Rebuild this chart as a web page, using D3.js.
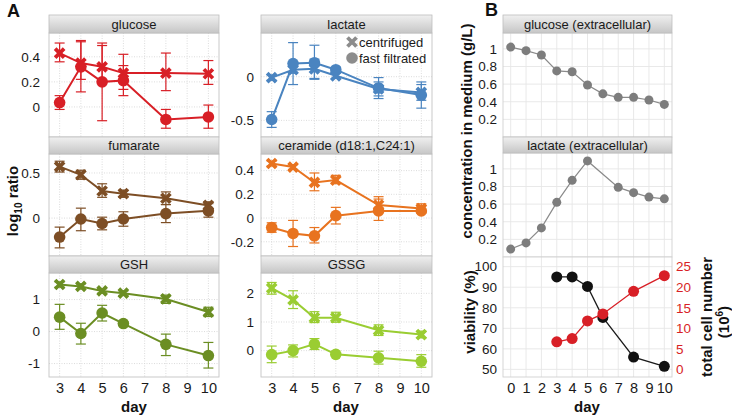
<!DOCTYPE html>
<html><head><meta charset="utf-8">
<script src="https://cdn.jsdelivr.net/npm/d3@7"></script>
<style>body{margin:0;background:#fff} svg{display:block;font-family:"Liberation Sans",Arial,sans-serif}</style>
</head><body><svg id="c" width="732" height="415"></svg>
<script>
// ---------- DATA ----------
const daysA = [3, 4, 5, 6, 8, 10];
const dayTicksA = [3, 4, 5, 6, 7, 8, 9, 10];
const metabolites = ["glucose", "lactate", "fumarate", "ceramide  (d18:1,C24:1)", "GSH", "GSSG"];
const metaboliteColors = ["#d81f26", "#4a84c0", "#7d4e25", "#e8731f", "#6b8e23", "#9acd32"];
const yDomainsA = [[-0.24, 0.59], [-0.69, 0.50], [-0.42, 0.71], [-0.32, 0.54], [-1.42, 1.83], [-0.92, 2.71]];
const yTicksA = [[0, 0.2, 0.4], [-0.5, 0], [0, 0.5], [-0.2, 0, 0.2, 0.4], [-1, 0, 1], [0, 1, 2]];

const centMean = [
  [0.43, 0.35, 0.32, 0.27, 0.27, 0.265],
  [-0.01, 0.08, 0.09, 0.01, -0.14, -0.18],
  [0.57, 0.48, 0.30, 0.27, 0.22, 0.14],
  [0.46, 0.43, 0.30, 0.32, 0.11, 0.08],
  [1.47, 1.41, 1.27, 1.20, 1.02, 0.61],
  [2.18, 1.77, 1.15, 1.15, 0.71, 0.56]
];
const centLo = [
  [0.36, 0.22, 0.22, 0.14, 0.13, 0.18],
  [-0.04, 0.04, -0.02, -0.02, -0.22, -0.27],
  [0.51, 0.43, 0.23, 0.23, 0.15, 0.09],
  [0.44, 0.41, 0.23, 0.29, 0.06, 0.05],
  [1.39, 1.33, 1.20, 1.13, 0.88, 0.47],
  [1.97, 1.47, 0.98, 0.99, 0.53, 0.45]
];
const centHi = [
  [0.51, 0.53, 0.51, 0.42, 0.43, 0.37],
  [0.02, 0.12, 0.20, 0.04, -0.06, -0.09],
  [0.63, 0.53, 0.38, 0.31, 0.29, 0.18],
  [0.48, 0.45, 0.38, 0.36, 0.18, 0.12],
  [1.55, 1.49, 1.34, 1.27, 1.14, 0.76],
  [2.38, 2.09, 1.36, 1.34, 0.90, 0.68]
];
const filtMean = [
  [0.035, 0.32, 0.20, 0.21, -0.10, -0.08],
  [-0.49, 0.15, 0.16, 0.08, -0.13, -0.21],
  [-0.21, -0.01, -0.06, -0.01, 0.05, 0.08],
  [-0.08, -0.13, -0.15, 0.02, 0.06, 0.06],
  [0.45, -0.06, 0.58, 0.25, -0.40, -0.75],
  [-0.14, 0.0, 0.23, -0.13, -0.25, -0.37]
];
const filtLo = [
  [-0.02, 0.12, -0.11, 0.09, -0.17, -0.17],
  [-0.58, -0.09, -0.03, 0.05, -0.25, -0.36],
  [-0.33, -0.14, -0.13, -0.09, -0.05, 0.01],
  [-0.12, -0.24, -0.21, -0.05, -0.02, 0.04],
  [0.07, -0.39, 0.33, 0.19, -0.75, -1.14],
  [-0.42, -0.22, 0.04, -0.18, -0.47, -0.58]
];
const filtHi = [
  [0.09, 0.52, 0.49, 0.33, -0.02, 0.015],
  [-0.40, 0.39, 0.36, 0.11, -0.01, -0.06],
  [-0.10, 0.11, 0.01, 0.07, 0.15, 0.16],
  [-0.04, -0.02, -0.08, 0.09, 0.16, 0.10],
  [0.85, 0.26, 0.82, 0.31, -0.08, -0.34],
  [0.16, 0.20, 0.42, -0.08, -0.02, -0.14]
];
const legendLabels = ["centrifuged", "fast filtrated"];

const daysB = [0, 1, 2, 3, 4, 5, 6, 7, 8, 9, 10];
const glucoseMedium = [1.02, 0.98, 0.93, 0.75, 0.74, 0.59, 0.49, 0.45, 0.45, 0.42, 0.37];
const lactateDays = [0, 1, 2, 3, 4, 5, 7, 8, 9, 10];
const lactateMedium = [0.09, 0.16, 0.33, 0.62, 0.87, 1.09, 0.79, 0.73, 0.68, 0.66];
const mediumTitles = ["glucose  (extracellular)", "lactate  (extracellular)"];
const mediumTicks = [0.2, 0.4, 0.6, 0.8, 1];
const viabDays = [3, 4, 5, 6, 8, 10];
const viability = [95, 95, 90.4, 75.3, 56, 51.5];
const cellNumber = [6.7, 7.5, 11.8, 13.5, 19, 22.8];
const viabTicks = [50, 60, 70, 80, 90, 100];
const cellTicks = [0, 5, 10, 15, 20, 25];

// ---------- DRAW ----------
const svg = d3.select("#c");
const defs = svg.append("defs");
const grad = defs.append("linearGradient").attr("id", "sg").attr("x1", 0).attr("x2", 0).attr("y1", 0).attr("y2", 1);
grad.append("stop").attr("offset", "0%").attr("stop-color", "#f0f0f0");
grad.append("stop").attr("offset", "100%").attr("stop-color", "#c6c6c6");

const fmt = d => String(d);
const colsA = [[49, 219], [261, 432]];
const rowsA = [[15, 33, 137], [137, 154, 256], [256, 273, 377]];

function strip(x0, x1, s, p0, label) {
  svg.append("rect").attr("x", x0).attr("y", s).attr("width", x1 - x0).attr("height", p0 - s)
    .attr("fill", "url(#sg)").attr("stroke", "#bdbdbd").attr("stroke-width", 0.8);
  svg.append("text").attr("x", (x0 + x1) / 2).attr("y", (s + p0) / 2 + 4.5).attr("text-anchor", "middle")
    .attr("font-size", 13).attr("fill", "#1a1a1a").text(label);
}

function crossPath(r) { return `M${-r},${-r}L${r},${r}M${-r},${r}L${r},${-r}`; }

metabolites.forEach((name, i) => {
  const [x0, x1] = colsA[i % 2];
  const [s, p0, p1] = rowsA[Math.floor(i / 2)];
  const x = d3.scaleLinear().domain([2.5, 10.5]).range([x0, x1]);
  const y = d3.scaleLinear().domain(yDomainsA[i]).range([p1, p0]);
  const col = metaboliteColors[i];
  const g = svg.append("g");
  g.append("rect").attr("x", x0).attr("y", p0).attr("width", x1 - x0).attr("height", p1 - p0).attr("fill", "#fff");
  g.selectAll(".vg").data(dayTicksA).join("line").attr("x1", d => x(d)).attr("x2", d => x(d)).attr("y1", p0).attr("y2", p1)
    .attr("stroke", "#d8d8d8").attr("stroke-dasharray", "1,1.5").attr("stroke-width", 0.9);
  g.selectAll(".hg").data(yTicksA[i]).join("line").attr("x1", x0).attr("x2", x1).attr("y1", d => y(d)).attr("y2", d => y(d))
    .attr("stroke", "#d8d8d8").attr("stroke-dasharray", "1,1.5").attr("stroke-width", 0.9);
  g.append("rect").attr("x", x0).attr("y", p0).attr("width", x1 - x0).attr("height", p1 - p0)
    .attr("fill", "none").attr("stroke", "#c4c4c4").attr("stroke-width", 0.9);
  strip(x0, x1, s, p0, name);
  const ya = g.append("g").attr("transform", `translate(${x0},0)`)
    .call(d3.axisLeft(y).tickValues(yTicksA[i]).tickFormat(fmt).tickSize(0).tickPadding(i % 2 ? 7 : 9));
  ya.select(".domain").remove();
  ya.selectAll("text").attr("font-size", 13.5).attr("fill", "#1a1a1a").attr("font-family", "Liberation Sans, Arial, sans-serif");
  if (i >= 4) {
    const xa = g.append("g").attr("transform", `translate(0,${p1})`)
      .call(d3.axisBottom(x).tickValues(dayTicksA).tickFormat(fmt).tickSize(0).tickPadding(6));
    xa.select(".domain").remove();
    xa.selectAll("text").attr("font-size", 14.5).attr("fill", "#1a1a1a").attr("font-family", "Liberation Sans, Arial, sans-serif");
  }
  const series = [
    { m: centMean[i], lo: centLo[i], hi: centHi[i], shape: "x" },
    { m: filtMean[i], lo: filtLo[i], hi: filtHi[i], shape: "o" }
  ];
  series.forEach(se => {
    const pts = daysA.map((d, k) => ({ d, v: se.m[k], lo: se.lo[k], hi: se.hi[k] }));
    const eb = g.append("g").attr("stroke", col).attr("stroke-width", 1.2).attr("fill", "none");
    pts.forEach(p => {
      eb.append("line").attr("x1", x(p.d)).attr("x2", x(p.d)).attr("y1", y(p.lo)).attr("y2", y(p.hi));
      eb.append("line").attr("x1", x(p.d) - 5).attr("x2", x(p.d) + 5).attr("y1", y(p.lo)).attr("y2", y(p.lo));
      eb.append("line").attr("x1", x(p.d) - 5).attr("x2", x(p.d) + 5).attr("y1", y(p.hi)).attr("y2", y(p.hi));
    });
    g.append("path").datum(pts).attr("fill", "none").attr("stroke", col).attr("stroke-width", 2)
      .attr("d", d3.line().x(p => x(p.d)).y(p => y(p.v)));
    if (se.shape === "x") {
      g.selectAll(null).data(pts).join("path").attr("transform", p => `translate(${x(p.d)},${y(p.v)})`)
        .attr("d", crossPath(4.5)).attr("stroke", col).attr("stroke-width", 3.8).attr("fill", "none");
    } else {
      g.selectAll(null).data(pts).join("circle").attr("cx", p => x(p.d)).attr("cy", p => y(p.v)).attr("r", 5.8).attr("fill", col);
    }
  });
  if (i === 1) {
    const lx = 352, ly = [42, 58];
    g.append("path").attr("transform", `translate(${lx},${ly[0]})`).attr("d", crossPath(4.5))
      .attr("stroke", "#8c8c8c").attr("stroke-width", 3.8);
    g.append("circle").attr("cx", lx).attr("cy", ly[1]).attr("r", 5.8).attr("fill", "#8c8c8c");
    legendLabels.forEach((t, k) => g.append("text").attr("x", lx + 7).attr("y", ly[k] + 4.5).attr("font-size", 13)
      .attr("fill", "#1a1a1a").text(t));
  }
});

// ---------- PANEL B ----------
const bx0 = 503, bx1 = 672;
const xB = d3.scaleLinear().domain([-0.5, 10.5]).range([bx0, bx1]);
const rowsB = [[15, 33, 137], [137, 153, 257]];
const mediumSeries = [
  daysB.map((d, k) => ({ d, v: glucoseMedium[k] })),
  lactateDays.map((d, k) => ({ d, v: lactateMedium[k] }))
];
function gridB(g, y, p0, p1, ticks) {
  g.append("rect").attr("x", bx0).attr("y", p0).attr("width", bx1 - bx0).attr("height", p1 - p0).attr("fill", "#fff");
  g.selectAll(null).data(daysB).join("line").attr("x1", d => xB(d)).attr("x2", d => xB(d)).attr("y1", p0).attr("y2", p1)
    .attr("stroke", "#e6e6e6").attr("stroke-width", 0.9);
  g.selectAll(null).data(ticks).join("line").attr("x1", bx0).attr("x2", bx1).attr("y1", d => y(d)).attr("y2", d => y(d))
    .attr("stroke", "#e6e6e6").attr("stroke-width", 0.9);
  g.append("rect").attr("x", bx0).attr("y", p0).attr("width", bx1 - bx0).attr("height", p1 - p0)
    .attr("fill", "none").attr("stroke", "#d0d0d0").attr("stroke-width", 0.9);
}
mediumSeries.forEach((pts, i) => {
  const [s, p0, p1] = rowsB[i];
  const y = d3.scaleLinear().domain([0, 1.18]).range([p1, p0]);
  const g = svg.append("g");
  gridB(g, y, p0, p1, mediumTicks);
  strip(bx0, bx1, s, p0, mediumTitles[i]);
  const ya = g.append("g").attr("transform", `translate(${bx0},0)`)
    .call(d3.axisLeft(y).tickValues(mediumTicks).tickFormat(fmt).tickSize(0).tickPadding(6));
  ya.select(".domain").remove();
  ya.selectAll("text").attr("font-size", 13.5).attr("fill", "#1a1a1a").attr("font-family", "Liberation Sans, Arial, sans-serif");
  g.append("path").datum(pts).attr("fill", "none").attr("stroke", "#8a8a8a").attr("stroke-width", 1.2)
    .attr("d", d3.line().x(p => xB(p.d)).y(p => y(p.v)));
  g.selectAll(null).data(pts).join("circle").attr("cx", p => xB(p.d)).attr("cy", p => y(p.v)).attr("r", 4.5).attr("fill", "#7d7d7d");
});
{
  const p0 = 257, p1 = 377;
  const yV = d3.scaleLinear().domain([46.3, 104.7]).range([p1, p0]);
  const yC = d3.scaleLinear().domain([-1.85, 27.35]).range([p1, p0]);
  const g = svg.append("g");
  gridB(g, yV, p0, p1, viabTicks);
  const ya = g.append("g").attr("transform", `translate(${bx0},0)`)
    .call(d3.axisLeft(yV).tickValues(viabTicks).tickFormat(fmt).tickSize(0).tickPadding(6));
  ya.select(".domain").remove();
  ya.selectAll("text").attr("font-size", 13.5).attr("fill", "#1a1a1a").attr("font-family", "Liberation Sans, Arial, sans-serif");
  const yr = g.append("g").attr("transform", `translate(${bx1},0)`)
    .call(d3.axisRight(yC).tickValues(cellTicks).tickFormat(fmt).tickSize(0).tickPadding(4));
  yr.select(".domain").remove();
  yr.selectAll("text").attr("font-size", 13.5).attr("fill", "#d81f26").attr("font-family", "Liberation Sans, Arial, sans-serif");
  const xa = g.append("g").attr("transform", `translate(0,${p1})`)
    .call(d3.axisBottom(xB).tickValues(daysB).tickFormat(fmt).tickSize(0).tickPadding(6));
  xa.select(".domain").remove();
  xa.selectAll("text").attr("font-size", 14.5).attr("fill", "#1a1a1a").attr("font-family", "Liberation Sans, Arial, sans-serif");
  const vp = viabDays.map((d, k) => ({ d, v: viability[k], c: cellNumber[k] }));
  g.append("path").datum(vp).attr("fill", "none").attr("stroke", "#1a1a1a").attr("stroke-width", 1.3)
    .attr("d", d3.line().x(p => xB(p.d)).y(p => yV(p.v)));
  g.selectAll(null).data(vp).join("circle").attr("cx", p => xB(p.d)).attr("cy", p => yV(p.v)).attr("r", 5.5).attr("fill", "#111");
  g.append("path").datum(vp).attr("fill", "none").attr("stroke", "#d81f26").attr("stroke-width", 1.3)
    .attr("d", d3.line().x(p => xB(p.d)).y(p => yC(p.c)));
  g.selectAll(null).data(vp).join("circle").attr("cx", p => xB(p.d)).attr("cy", p => yC(p.c)).attr("r", 5.5).attr("fill", "#d81f26");
}

// ---------- TITLES ----------
function bold(x, y, txt, size, rot) {
  return svg.append("text").attr("transform", `translate(${x},${y})${rot ? " rotate(-90)" : ""}`)
    .attr("text-anchor", "middle").attr("font-weight", "bold").attr("font-size", size).attr("fill", "#111").text(txt);
}
svg.append("text").attr("x", 7).attr("y", 17).attr("font-weight", "bold").attr("font-size", 18).attr("fill", "#111").text("A");
svg.append("text").attr("x", 485).attr("y", 16).attr("font-weight", "bold").attr("font-size", 18).attr("fill", "#111").text("B");
bold(134, 412, "day", 15);
bold(346, 412, "day", 15);
bold(587, 412, "day", 15);
{
  const t = svg.append("text").attr("transform", "translate(18,201) rotate(-90)").attr("text-anchor", "middle")
    .attr("font-weight", "bold").attr("font-size", 15).attr("fill", "#111");
  t.append("tspan").text("log");
  t.append("tspan").attr("font-size", 10).attr("dy", 4).text("10");
  t.append("tspan").attr("dy", -4).text(" ratio");
}
bold(472, 131, "concentration in medium (g/L)", 15, true);
bold(475, 312, "viability (%)", 15, true);
bold(712, 317, "total cell number", 15, true);
{
  const t = svg.append("text").attr("transform", "translate(729,322) rotate(-90)").attr("text-anchor", "middle")
    .attr("font-weight", "bold").attr("font-size", 15).attr("fill", "#111");
  t.append("tspan").text("(10");
  t.append("tspan").attr("font-size", 10).attr("dy", -6).text("6");
  t.append("tspan").attr("dy", 6).text(")");
}
</script></body></html>
